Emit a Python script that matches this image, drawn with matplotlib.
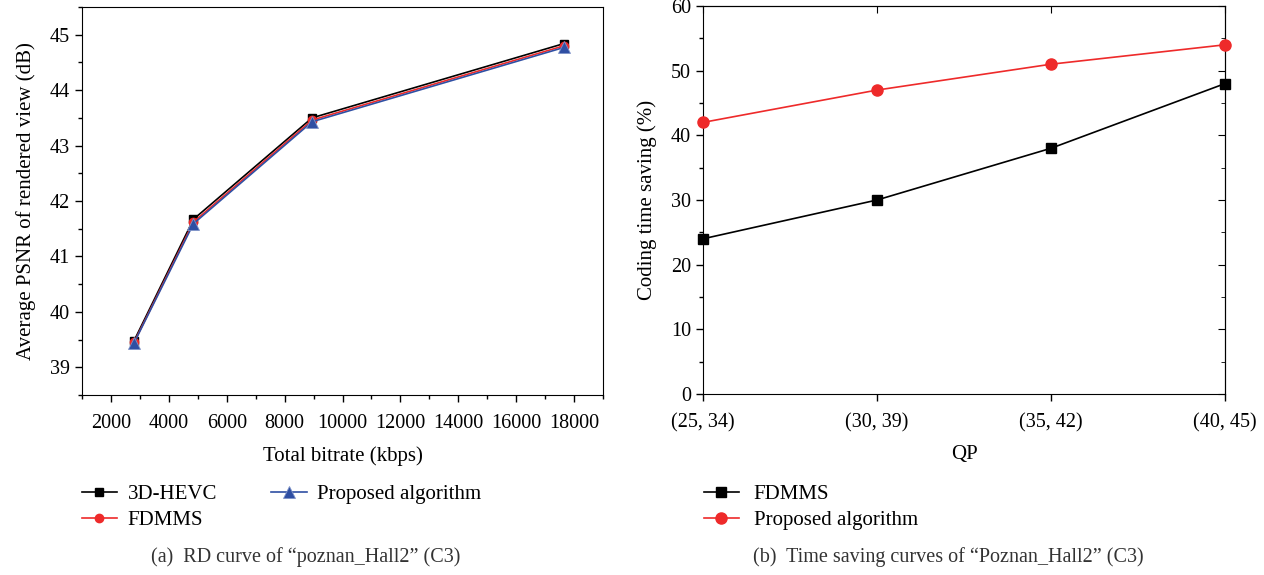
import numpy as np
import matplotlib.pyplot as plt
from matplotlib.ticker import MultipleLocator

plt.rcParams['font.family'] = ['Liberation Serif', 'DejaVu Serif']
plt.rcParams['font.size'] = 14.5

## RD curve data (left)
bitrate = [2800, 4850, 8950, 17650]
psnr_hevc = [39.48, 41.67, 43.50, 44.84]
psnr_fdmms = [39.45, 41.62, 43.46, 44.80]
psnr_prop = [39.44, 41.59, 43.43, 44.77]

## time saving data (right)
qp_labels = ['(25, 34)', '(30, 39)', '(35, 42)', '(40, 45)']
ts_fdmms = [24, 30, 38, 48]
ts_prop = [42, 47, 51, 54]

black = '#000000'
red = '#ee2a2a'
blue = '#2f4fa3'

fig = plt.figure(figsize=(12.64, 5.75), dpi=100)
ax1 = fig.add_axes([82/1264, 1-395/575, (603-82)/1264, (395-7)/575])
ax2 = fig.add_axes([703/1264, 1-394/575, (1225-703)/1264, (394-6)/575])

## plot 1
ax1.plot(bitrate, psnr_hevc, color=black, lw=1.2, marker='s', ms=6, label='3D-HEVC')
ax1.plot(bitrate, psnr_fdmms, color=red, lw=1.2, marker='o', ms=6, label='FDMMS')
ax1.plot(bitrate, psnr_prop, color=blue, lw=1.2, marker='^', ms=8,
         mec='#7f93c8', mew=0.6, label='Proposed algorithm')
ax1.set_xlim(1000, 19000)
ax1.set_ylim(38.5, 45.5)
ax1.xaxis.set_major_locator(MultipleLocator(2000))
ax1.xaxis.set_minor_locator(MultipleLocator(1000))
ax1.yaxis.set_major_locator(MultipleLocator(1))
ax1.yaxis.set_minor_locator(MultipleLocator(0.5))
ax1.tick_params(which='major', direction='out', length=5, width=1)
ax1.tick_params(which='minor', direction='out', length=3, width=1)
ax1.tick_params(axis='x', pad=9)
ax1.set_xlabel('Total bitrate (kbps)', fontsize=15, labelpad=9)
ax1.set_ylabel('Average PSNR of rendered view (dB)', fontsize=15, labelpad=10)
ax1.legend(loc='upper left', bbox_to_anchor=(63/1264, 1-466/575),
           bbox_transform=fig.transFigure, ncol=2, frameon=False,
           handlelength=1.7, handletextpad=0.5, columnspacing=2.6,
           labelspacing=0.3, fontsize=15)

## plot 2
x = np.arange(len(qp_labels))
ax2.plot(x, ts_fdmms, color=black, lw=1.2, marker='s', ms=7, label='FDMMS', clip_on=False, zorder=5)
ax2.plot(x, ts_prop, color=red, lw=1.2, marker='o', ms=8, label='Proposed algorithm', clip_on=False, zorder=5)
ax2.set_xlim(0, 3)
ax2.set_ylim(0, 60)
ax2.set_xticks(x)
ax2.set_xticklabels(qp_labels)
ax2.yaxis.set_major_locator(MultipleLocator(10))
ax2.yaxis.set_minor_locator(MultipleLocator(5))
ax2.tick_params(which='major', direction='out', length=5, width=1)
ax2.tick_params(which='minor', direction='out', length=3, width=1)
ax2.tick_params(axis='x', pad=9)
sec_y = ax2.secondary_yaxis('right')
sec_y.yaxis.set_major_locator(MultipleLocator(10))
sec_y.yaxis.set_minor_locator(MultipleLocator(5))
sec_y.tick_params(which='major', direction='in', length=5, labelright=False)
sec_y.tick_params(which='minor', direction='in', length=3, labelright=False)
sec_x = ax2.secondary_xaxis('top')
sec_x.set_xticks(x)
sec_x.tick_params(direction='in', length=5, labeltop=False)
ax2.set_xlabel('QP', fontsize=15, labelpad=9)
ax2.set_ylabel('Coding time saving (%)', fontsize=15, labelpad=10)
ax2.legend(loc='upper left', bbox_to_anchor=(685/1264, 1-466/575),
           bbox_transform=fig.transFigure, ncol=1, frameon=False,
           handlelength=1.7, handletextpad=0.7, labelspacing=0.3, fontsize=15)

## captions
fig.text(306/1264, 1-557/575, '(a)  RD curve of \u201cpoznan_Hall2\u201d (C3)',
         ha='center', va='center', fontsize=14.5, color='#333333')
fig.text(948/1264, 1-557/575, '(b)  Time saving curves of \u201cPoznan_Hall2\u201d (C3)',
         ha='center', va='center', fontsize=14.5, color='#333333')

fig.savefig('out.png', dpi=100)
